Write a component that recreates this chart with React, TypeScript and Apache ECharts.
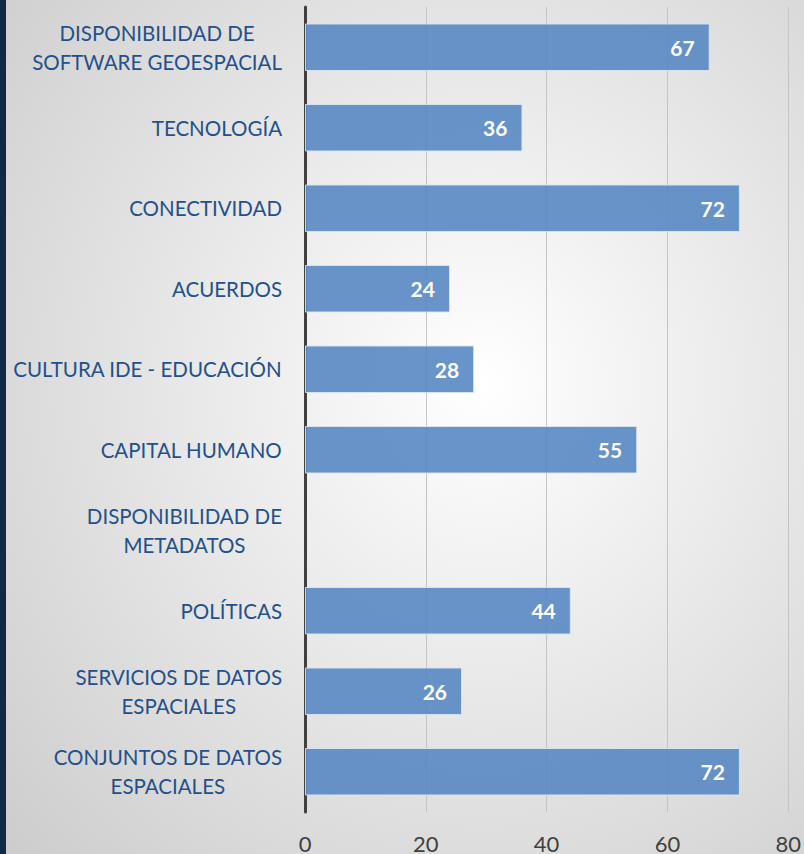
import React, { useEffect, useRef } from "react";
import * as echarts from "echarts";

const categories = [
  "DISPONIBILIDAD DE\nSOFTWARE GEOESPACIAL",
  "TECNOLOGÍA",
  "CONECTIVIDAD",
  "ACUERDOS",
  "CULTURA IDE - EDUCACIÓN",
  "CAPITAL HUMANO",
  "DISPONIBILIDAD DE\nMETADATOS",
  "POLÍTICAS",
  "SERVICIOS DE DATOS\nESPACIALES",
  "CONJUNTOS DE DATOS\nESPACIALES",
];
const values: (number | null)[] = [67, 36, 72, 24, 28, 55, null, 44, 26, 72];
const xTicks = { min: 0, max: 80, interval: 20 };

export default function App() {
  const ref = useRef<HTMLDivElement>(null);
  useEffect(() => {
    if (!ref.current) return;
    const chart = echarts.init(ref.current, undefined, { renderer: "svg" });
    chart.setOption({
      animation: false,
      backgroundColor: {
        type: "radial",
        x: 0.6,
        y: 0.45,
        r: 0.8,
        colorStops: [
          { offset: 0, color: "#ffffff" },
          { offset: 1, color: "#cdcdcd" },
        ],
      },
      graphic: [
        {
          type: "rect",
          left: 0,
          top: 0,
          shape: { width: 6, height: 854 },
          style: { fill: "#0f2a44" },
        },
      ],
      grid: { left: 305, right: 15, top: 7, bottom: 39 },
      xAxis: {
        type: "value",
        min: xTicks.min,
        max: xTicks.max,
        interval: xTicks.interval,
        axisLine: { show: false },
        axisTick: { show: false },
        splitLine: { show: true, lineStyle: { color: "#c4c4c4", width: 1 } },
        axisLabel: {
          color: "#404040",
          fontSize: 22,
          fontFamily: "Lato",
          margin: 20,
        },
      },
      yAxis: {
        type: "category",
        inverse: true,
        data: categories,
        axisLine: { show: true, lineStyle: { color: "#404040", width: 3 } },
        axisTick: { show: false },
        axisLabel: {
          color: "#24508a",
          fontSize: 20.5,
          fontFamily: "Lato",
          lineHeight: 29,
          margin: 23,
          align: "right",
          formatter: (v: string) =>
            v
              .split("\n")
              .map((l) => "{c|" + l + "}")
              .join("\n"),
          rich: {
            c: {
              align: "center",
              color: "#24508a",
              fontSize: 20.5,
              fontFamily: "Lato",
              lineHeight: 29,
            },
          },
        },
      },
      series: [
        {
          type: "bar",
          data: values,
          barWidth: "59%",
          itemStyle: {
            color: "rgba(88,136,196,0.9)",
            borderColor: "rgba(220,230,242,0.9)",
            borderWidth: 1,
          },
          label: {
            show: true,
            position: "insideRight",
            distance: 15,
            color: "#ffffff",
            fontWeight: "bold",
            fontSize: 21,
            fontFamily: "Lato",
            formatter: (p: any) => (p.value == null ? "" : String(p.value)),
          },
        },
      ],
    });
    return () => chart.dispose();
  }, []);
  return (
    <div
      ref={ref}
      style={{ position: "absolute", left: 0, top: 0, width: 804, height: 854 }}
    />
  );
}
